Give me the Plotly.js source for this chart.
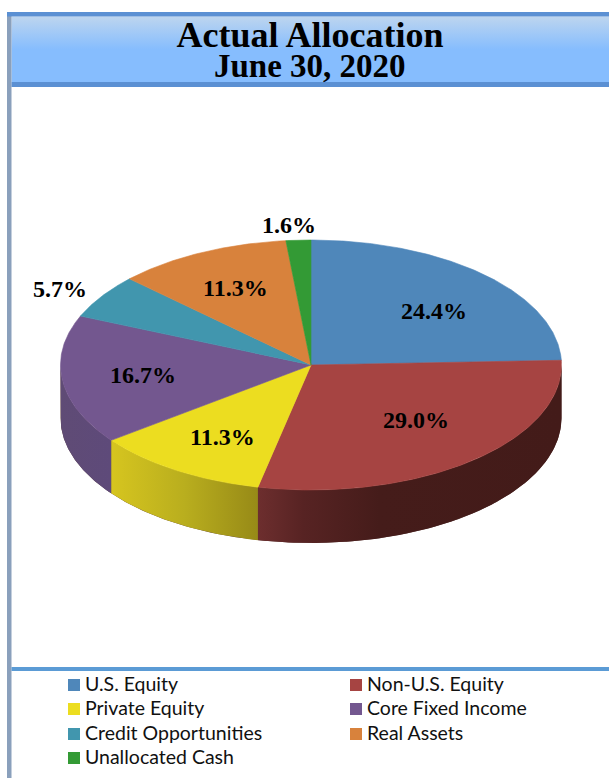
<!DOCTYPE html>
<html>
<head>
<meta charset="utf-8">
<script src="https://cdn.plot.ly/plotly-3.0.1.min.js"></script>
<style>html,body{margin:0;padding:0;background:#fff;overflow:hidden}#chart{width:609px;height:778px}</style>
</head>
<body>
<div id="chart"></div>
<script>
const categories = ['U.S. Equity','Non-U.S. Equity','Private Equity','Core Fixed Income','Credit Opportunities','Real Assets','Unallocated Cash'];
const values = [24.4,29.0,11.3,16.7,5.7,11.3,1.6];
const sliceColors = ['#4f87ba','#a64442','#ecdd20','#73578f','#4196ae','#d8823c','#339a35'];
const wallScales = [
  null,
  [[0,'#6d2e2e'],[0.15,'#572323'],[0.4,'#451c1a'],[1,'#431b19']],
  [[0,'#d6c51f'],[0.5,'#b9ae1e'],[1,'#978a17']],
  [[0,'#5f4b75'],[1,'#5e4a7a']],
  null,null,null
];
const labelText = values.map(v => v.toFixed(1) + '%');
const labelX = [434,416,222,143,60,235,289];
const labelY = [311,420,437,375,289,288,225];
const legendX = [68,350,68,350,68,350,68];
const legendY = [685,685,709,709,734,734,758];

const W = 609, H = 778;
const cx = 311, cy = 365, rx = 250.5, ry = 125, depth = 53;

function pt(deg, dy) {
  const a = deg * Math.PI / 180;
  return [cx + rx * Math.sin(a), cy - ry * Math.cos(a) + dy];
}
function arc(a, b, dy) {
  const out = [], n = Math.max(2, Math.ceil(Math.abs(b - a) * 2));
  for (let i = 0; i <= n; i++) out.push(pt(a + (b - a) * i / n, dy));
  return out;
}
const traces = [];

// Header band (the y axis runs downward, so the scale reads bottom to top)
const headerX = [11.5, W, W, 11.5, 11.5], headerY = [16.5, 16.5, 82, 82, 16.5];
traces.push({x: headerX, y: headerY, mode: 'lines', fill: 'toself', line: {width: 0},
  fillgradient: {type: 'vertical', colorscale: [[0,'#86bdfe'],[0.5,'#86bdfe'],[1,'#bdd5ef']]},
  hoverinfo: 'skip', showlegend: false});

let cum = 0;
const spans = values.map(v => { const s = [cum * 3.6, (cum + v) * 3.6]; cum += v; return s; });

// Solid backing under the walls so no pale seam shows between them
const backing = arc(90, 270, 0).concat(arc(270, 90, depth));
backing.push(backing[0]);
traces.push({x: backing.map(p => p[0]), y: backing.map(p => p[1]), mode: 'lines', fill: 'toself',
  fillcolor: '#5e3f3c', line: {width: 0}, hoverinfo: 'skip', showlegend: false});

spans.forEach((s, i) => {
  const a = Math.max(s[0], 90), b = Math.min(s[1], 270);
  if (a >= b) return;
  const poly = arc(a, b, 0).concat(arc(b, a, depth));
  poly.push(poly[0]);
  traces.push({x: poly.map(p => p[0]), y: poly.map(p => p[1]), mode: 'lines', fill: 'toself',
    line: {width: 0}, fillgradient: {type: 'horizontal', colorscale: wallScales[i]},
    hoverinfo: 'skip', showlegend: false});
});
spans.forEach((s, i) => {
  const poly = [[cx, cy]].concat(arc(s[0], s[1], 0));
  poly.push([cx, cy]);
  traces.push({name: categories[i], x: poly.map(p => p[0]), y: poly.map(p => p[1]), mode: 'lines',
    fill: 'toself', fillcolor: sliceColors[i], line: {width: 0.6, color: sliceColors[i]},
    hovertemplate: categories[i] + ': ' + labelText[i] + '<extra></extra>', showlegend: false});
});

// Legend swatches
traces.push({x: legendX.map(x => x + 6), y: legendY, mode: 'markers',
  marker: {symbol: 'square', size: 12, color: sliceColors, line: {width: 0}},
  hoverinfo: 'skip', showlegend: false});

const annotations = [];
labelText.forEach((t, i) => annotations.push({x: labelX[i], y: labelY[i], xref: 'x', yref: 'y', text: '<b>' + t + '</b>',
  showarrow: false, xanchor: 'center', yanchor: 'middle',
  font: {family: 'Liberation Serif', size: 24, color: '#000'}}));
categories.forEach((c, i) => annotations.push({x: legendX[i] + 17, y: legendY[i] - 1.5, xref: 'x', yref: 'y', text: c,
  showarrow: false, xanchor: 'left', yanchor: 'middle', xshift: -2,
  font: {family: 'Lato', size: 19.5, color: '#111'}}));
annotations.push({x: 310, y: 66, xref: 'x', yref: 'y', text: '<b>June 30, 2020</b>', showarrow: false,
  xanchor: 'center', yanchor: 'middle', font: {family: 'Liberation Serif', size: 33, color: '#000'}});

const rect = (x0, y0, x1, y1, c) => ({type: 'rect', xref: 'x', yref: 'y', x0, y0, x1, y1, fillcolor: c, line: {width: 0}, layer: 'above'});

Plotly.newPlot('chart', traces, {
  width: W, height: H,
  margin: {l: 0, r: 0, t: 0, b: 0},
  paper_bgcolor: '#fff', plot_bgcolor: '#fff',
  showlegend: false,
  title: {text: '<b>Actual Allocation</b>', x: 310 / W, y: 1 - 34 / H, xref: 'paper', yref: 'paper',
    xanchor: 'center', yanchor: 'middle', font: {family: 'Liberation Serif', size: 36, color: '#000'}},
  xaxis: {range: [0, W], visible: false, fixedrange: true},
  yaxis: {range: [H, 0], visible: false, fixedrange: true},
  shapes: [
    rect(7, 12, 11.5, H, '#8aa0bc'),
    rect(7, 12, W, 16.5, '#5b90d3'),
    rect(11.5, 82, W, 87, '#5b90d3'),
    rect(11.5, 667, W, 671, '#5b9bd5')
  ],
  annotations
}, {displayModeBar: false});
</script>
</body>
</html>
